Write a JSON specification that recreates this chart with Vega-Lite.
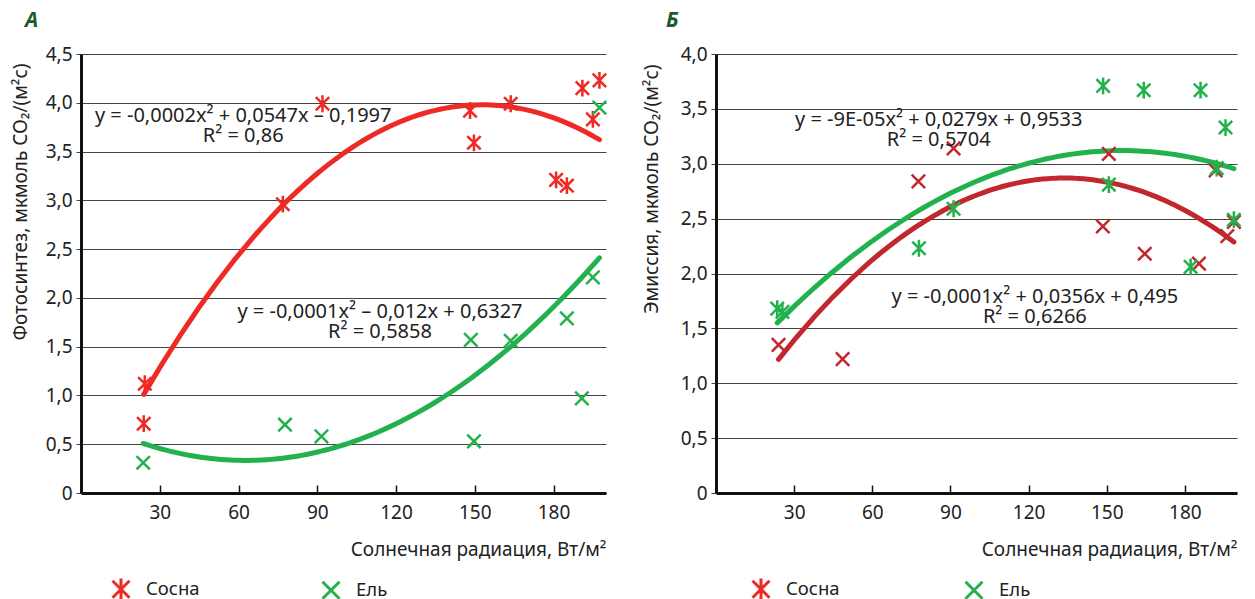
{
  "$schema": "https://vega.github.io/schema/vega-lite/v6.json",
  "padding": {"left": 11, "top": 10, "right": 5, "bottom": 30},
  "background": "white",
  "datasets": {
    "A": [
      {"species": "Сосна", "radiation": 23.9, "value": 0.71},
      {"species": "Сосна", "radiation": 24.3, "value": 1.12},
      {"species": "Сосна", "radiation": 76.9, "value": 2.96},
      {"species": "Сосна", "radiation": 92.0, "value": 3.99},
      {"species": "Сосна", "radiation": 148.2, "value": 3.92},
      {"species": "Сосна", "radiation": 149.7, "value": 3.59},
      {"species": "Сосна", "radiation": 163.7, "value": 3.99},
      {"species": "Сосна", "radiation": 181.0, "value": 3.21},
      {"species": "Сосна", "radiation": 185.1, "value": 3.15},
      {"species": "Сосна", "radiation": 191.0, "value": 4.15},
      {"species": "Сосна", "radiation": 195.0, "value": 3.83},
      {"species": "Сосна", "radiation": 197.5, "value": 4.23},
      {"species": "Ель", "radiation": 23.7, "value": 0.31},
      {"species": "Ель", "radiation": 77.7, "value": 0.70},
      {"species": "Ель", "radiation": 91.6, "value": 0.58},
      {"species": "Ель", "radiation": 148.5, "value": 1.57},
      {"species": "Ель", "radiation": 149.7, "value": 0.53},
      {"species": "Ель", "radiation": 163.7, "value": 1.56},
      {"species": "Ель", "radiation": 185.1, "value": 1.79},
      {"species": "Ель", "radiation": 190.8, "value": 0.97},
      {"species": "Ель", "radiation": 195.0, "value": 2.21},
      {"species": "Ель", "radiation": 197.5, "value": 3.95}
    ],
    "B": [
      {"species": "Сосна", "radiation": 24.0, "value": 1.35},
      {"species": "Сосна", "radiation": 48.6, "value": 1.22},
      {"species": "Сосна", "radiation": 77.7, "value": 2.84},
      {"species": "Сосна", "radiation": 91.2, "value": 3.14},
      {"species": "Сосна", "radiation": 148.5, "value": 2.43},
      {"species": "Сосна", "radiation": 150.8, "value": 3.09},
      {"species": "Сосна", "radiation": 164.6, "value": 2.18},
      {"species": "Сосна", "radiation": 185.4, "value": 2.09},
      {"species": "Сосна", "radiation": 191.8, "value": 2.94},
      {"species": "Сосна", "radiation": 196.3, "value": 2.34},
      {"species": "Сосна", "radiation": 198.8, "value": 2.47},
      {"species": "Ель", "radiation": 23.5, "value": 1.68},
      {"species": "Ель", "radiation": 25.5, "value": 1.65},
      {"species": "Ель", "radiation": 77.9, "value": 2.23},
      {"species": "Ель", "radiation": 91.2, "value": 2.59},
      {"species": "Ель", "radiation": 148.6, "value": 3.71},
      {"species": "Ель", "radiation": 150.8, "value": 2.81},
      {"species": "Ель", "radiation": 164.2, "value": 3.67},
      {"species": "Ель", "radiation": 182.2, "value": 2.06},
      {"species": "Ель", "radiation": 186.0, "value": 3.67},
      {"species": "Ель", "radiation": 192.2, "value": 2.96},
      {"species": "Ель", "radiation": 195.6, "value": 3.33},
      {"species": "Ель", "radiation": 198.8, "value": 2.49}
    ],
    "eqA": [
      {"radiation": 61.8, "value": 3.86, "label": "y = -0,0002x² + 0,0547x – 0,1997\nR² = 0,86"},
      {"radiation": 113.9, "value": 1.855, "label": "y = -0,0001x² – 0,012x + 0,6327\nR² = 0,5858"}
    ],
    "eqB": [
      {"radiation": 85.5, "value": 3.40, "label": "y = -9E-05x² + 0,0279x + 0,9533\nR² = 0,5704"},
      {"radiation": 122.4, "value": 1.786, "label": "y = -0,0001x² + 0,0356x + 0,495\nR² = 0,6266"}
    ]
  },
  "hconcat": [
    {
      "width": 525,
      "height": 439,
      "title": {"text": "А", "anchor": "start", "frame": "group", "dx": -56, "offset": 14, "fontSize": 21, "fontStyle": "italic", "fontWeight": "bold", "color": "#1d5a2b"},
      "encoding": {
        "x": {"field": "radiation", "type": "quantitative", "scale": {"domain": [0, 200], "nice": false},
          "axis": {"values": [30, 60, 90, 120, 150, 180], "title": "Солнечная радиация, Вт/м²", "titleAnchor": "end", "grid": false, "tickSize": -8, "tickColor": "#111", "tickWidth": 1.5, "labelPadding": 18, "titlePadding": 18}},
        "y": {"field": "value", "type": "quantitative", "scale": {"domain": [0, 4.5], "nice": false},
          "axis": {"values": [0, 0.5, 1, 1.5, 2, 2.5, 3, 3.5, 4, 4.5], "labelExpr": "datum.value === 0 ? '0' : replace(format(datum.value, '.1f'), '.', ',')", "title": "Фотосинтез, мкмоль CO₂/(м²с)", "titleAnchor": "end", "titleY": 9, "grid": true, "tickSize": 5, "tickColor": "#444", "labelPadding": 4, "titlePadding": 15}}
      },
      "layer": [
        {
          "data": {"name": "A"},
          "transform": [{"filter": {"field": "species", "equal": "Сосна"}}, {"regression": "value", "on": "radiation", "method": "poly", "order": 2}],
          "mark": {"type": "line", "strokeWidth": 5, "strokeCap": "round", "color": "#ee2a24"}
        },
        {
          "data": {"name": "A"},
          "transform": [{"filter": {"field": "species", "equal": "Ель"}}, {"regression": "value", "on": "radiation", "method": "poly", "order": 2}],
          "mark": {"type": "line", "strokeWidth": 5, "strokeCap": "round", "color": "#22b14c"}
        },
        {
          "data": {"name": "A"},
          "mark": {"type": "point", "filled": false, "strokeWidth": 2.5, "size": 180, "opacity": 1},
          "encoding": {
            "color": {"field": "species", "type": "nominal", "title": null, "scale": {"domain": ["Сосна", "Ель"], "range": ["#ee2a24", "#22b14c"]},
              "legend": {"orient": "none", "legendX": 30, "legendY": 525, "direction": "horizontal", "padding": 0, "symbolSize": 289, "symbolStrokeWidth": 3, "symbolOpacity": 1, "labelFontSize": 18.5, "labelColor": "#222", "labelOffset": 15, "columnPadding": 116}},
            "shape": {"field": "species", "type": "nominal", "title": null, "scale": {"domain": ["Сосна", "Ель"], "range": ["M-1,-1L1,1M-1,1L1,-1M0,-1.25L0,1.25", "M-1,-1L1,1M-1,1L1,-1"]}}
          }
        },
        {
          "data": {"name": "eqA"},
          "mark": {"type": "text", "lineBreak": "\n", "align": "center", "baseline": "middle", "fontSize": 20, "lineHeight": 20, "color": "#222"},
          "encoding": {
            "text": {"field": "label"}
          }
        }
      ]
    },
    {
      "width": 521,
      "height": 439,
      "title": {"text": "Б", "anchor": "start", "frame": "group", "dx": -50, "offset": 14, "fontSize": 21, "fontStyle": "italic", "fontWeight": "bold", "color": "#1d5a2b"},
      "encoding": {
        "x": {"field": "radiation", "type": "quantitative", "scale": {"domain": [0, 200], "nice": false},
          "axis": {"values": [30, 60, 90, 120, 150, 180], "title": "Солнечная радиация, Вт/м²", "titleAnchor": "end", "grid": false, "tickSize": -8, "tickColor": "#111", "tickWidth": 1.5, "labelPadding": 18, "titlePadding": 18}},
        "y": {"field": "value", "type": "quantitative", "scale": {"domain": [0, 4], "nice": false},
          "axis": {"values": [0, 0.5, 1, 1.5, 2, 2.5, 3, 3.5, 4], "labelExpr": "datum.value === 0 ? '0' : replace(format(datum.value, '.1f'), '.', ',')", "title": "Эмиссия, мкмоль CO₂/(м²с)", "titleAnchor": "end", "titleY": 10, "grid": true, "tickSize": 5, "tickColor": "#444", "labelPadding": 4, "titlePadding": 19}}
      },
      "layer": [
        {
          "data": {"name": "B"},
          "transform": [{"filter": {"field": "species", "equal": "Сосна"}}, {"regression": "value", "on": "radiation", "method": "poly", "order": 2}],
          "mark": {"type": "line", "strokeWidth": 5, "strokeCap": "round", "color": "#c1272d"}
        },
        {
          "data": {"name": "B"},
          "transform": [{"filter": {"field": "species", "equal": "Ель"}}, {"regression": "value", "on": "radiation", "method": "poly", "order": 2}],
          "mark": {"type": "line", "strokeWidth": 5, "strokeCap": "round", "color": "#22b14c"}
        },
        {
          "data": {"name": "B"},
          "mark": {"type": "point", "filled": false, "strokeWidth": 2.5, "size": 180, "opacity": 1},
          "encoding": {
            "color": {"field": "species", "type": "nominal", "title": null, "scale": {"domain": ["Сосна", "Ель"], "range": ["#c1272d", "#22b14c"]}, "legend": null},
            "shape": {"field": "species", "type": "nominal", "title": null, "scale": {"domain": ["Сосна", "Ель"], "range": ["M-1,-1L1,1M-1,1L1,-1", "M-1,-1L1,1M-1,1L1,-1M0,-1.25L0,1.25"]}, "legend": null}
          }
        },
        {
          "data": {"name": "B"},
          "transform": [{"filter": {"field": "species", "equal": "легенда"}}],
          "mark": {"type": "point", "filled": false, "strokeWidth": 2.5, "size": 180, "opacity": 1},
          "encoding": {
            "color": {"field": "species", "type": "nominal", "title": null, "scale": {"domain": ["Сосна", "Ель"], "range": ["#ee2a24", "#22b14c"]},
              "legend": {"orient": "none", "legendX": 35, "legendY": 525, "direction": "horizontal", "padding": 0, "symbolSize": 289, "symbolStrokeWidth": 3, "symbolOpacity": 1, "labelFontSize": 18.5, "labelColor": "#222", "labelOffset": 15, "columnPadding": 119}},
            "shape": {"field": "species", "type": "nominal", "title": null, "scale": {"domain": ["Сосна", "Ель"], "range": ["M-1,-1L1,1M-1,1L1,-1M0,-1.25L0,1.25", "M-1,-1L1,1M-1,1L1,-1"]}}
          }
        },
        {
          "data": {"name": "eqB"},
          "mark": {"type": "text", "lineBreak": "\n", "align": "center", "baseline": "middle", "fontSize": 20, "lineHeight": 20, "color": "#222"},
          "encoding": {
            "text": {"field": "label"}
          }
        }
      ],
      "resolve": {"scale": {"color": "independent", "shape": "independent"}, "legend": {"color": "independent", "shape": "independent"}}
    }
  ],
  "spacing": 30,
  "resolve": {"scale": {"color": "independent", "shape": "independent"}, "legend": {"color": "independent", "shape": "independent"}},
  "config": {
    "font": "Noto Sans",
    "view": {"stroke": null},
    "axis": {"labelFontSize": 19, "titleFontSize": 19, "labelColor": "#222", "titleColor": "#222", "titleFontWeight": "normal", "gridColor": "#444", "gridWidth": 1, "domainColor": "#111", "domainWidth": 3},
    "legend": {"labelFont": "Noto Sans"}
  }
}
